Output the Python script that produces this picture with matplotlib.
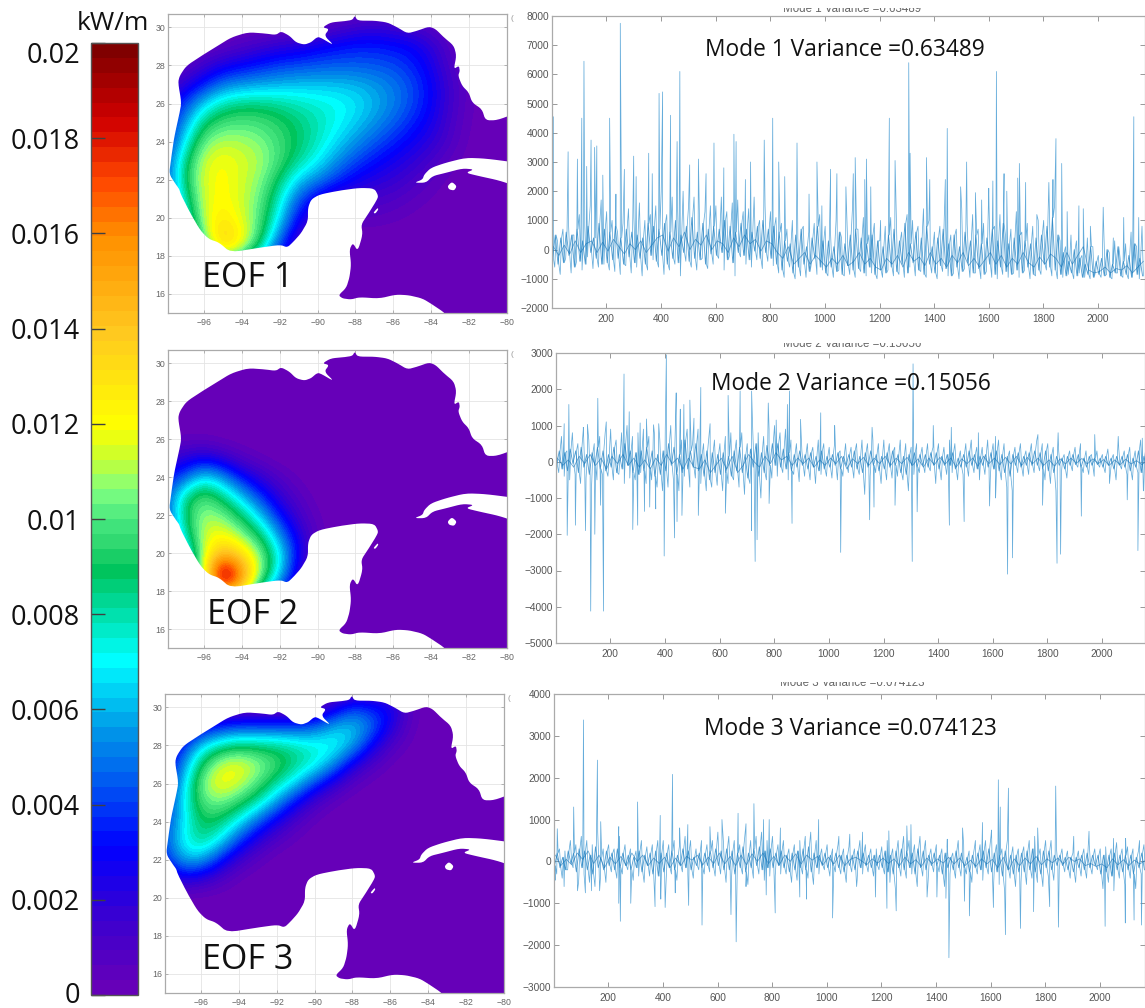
# -*- coding: utf-8 -*-
import numpy as np
from matplotlib import pyplot as plt
from matplotlib.cm import ScalarMappable
from matplotlib.colors import LinearSegmentedColormap, Normalize
from matplotlib.patches import PathPatch
from matplotlib.path import Path
from matplotlib.transforms import Bbox, ScaledTranslation

W, H = 1145, 1008

# Colour bar
cbar_ticks = [0, 0.002, 0.004, 0.006, 0.008, 0.01, 0.012, 0.014, 0.016, 0.018, 0.02]
cbar_labels = ["0", "0.002", "0.004", "0.006", "0.008", "0.01", "0.012", "0.014", "0.016", "0.018", "0.02"]
cmap_stops = [0, 0.0015, 0.003, 0.0045, 0.0055, 0.007, 0.008, 0.0089, 0.0095, 0.010, 0.0106, 0.0113, 0.012, 0.014, 0.016, 0.0172, 0.0185, 0.02]
cmap_colors = ["#6600b8", "#3a00d0", "#0000ff", "#0060f0", "#0098e8", "#00ffff", "#00dfa8", "#00c45c", "#30d870",
               "#48e880", "#80ff80", "#c8ff30", "#ffff00", "#ffc820", "#ff9000", "#ff4800", "#d00000", "#800000"]

# Coast lines, lon/lat
coast_lon = [-83.28, -83.93, -84.46, -85.16, -85.86, -86.74, -87.79, -88.23, -88.67, -88.9, -88.49, -88.32, -88.23, -88.32,
             -88.14, -87.88, -87.62, -87.7, -87.35, -86.91, -86.79, -87.0, -87.79, -88.84, -89.9, -90.34, -90.51, -90.51,
             -90.86, -91.26, -91.6, -91.96, -93.0, -94.6, -95.2, -95.74, -96.18, -96.7, -97.23, -97.3, -97.5, -97.84,
             -97.75, -97.58, -97.3, -97.19, -97.37, -97.28, -96.93, -96.14, -95.26, -94.56, -93.68, -92.8, -92.2, -91.93,
             -91.49, -91.14, -90.7, -90.35, -90.09, -89.91, -89.12, -89.65, -89.39, -89.74, -89.3, -88.6, -88.16, -88.04,
             -87.89, -87.02, -86.32, -85.79, -85.26, -84.74, -84.12, -83.77, -83.33, -82.81, -82.67, -82.81, -82.54, -82.49,
             -82.58, -82.37, -82.02, -81.84, -81.32, -81.14, -80.53, -79.5, -79.5, -82.9]
coast_lat = [15.0, 15.44, 15.76, 15.93, 15.97, 15.76, 15.83, 15.71, 15.76, 15.93, 16.32, 16.85, 17.55, 18.33,
             18.68, 18.25, 19.12, 19.65, 20.17, 20.87, 21.14, 21.54, 21.57, 21.43, 21.22, 20.96, 20.52, 19.82,
             19.21, 18.76, 18.44, 18.58, 18.44, 18.18, 18.7, 18.88, 19.32, 20.2, 21.24, 21.5, 21.77, 22.3,
             23.0, 24.2, 25.45, 26.05, 27.1, 27.46, 27.98, 28.5, 29.04, 29.47, 29.74, 29.68, 29.6, 29.79,
             29.56, 29.21, 29.09, 29.21, 29.44, 29.5, 29.04, 29.56, 29.91, 30.0, 30.26, 30.32, 30.39, 30.61,
             30.35, 30.35, 30.26, 30.0, 29.68, 29.82, 30.04, 29.91, 29.47, 29.04, 28.51, 27.81, 27.98, 27.72,
             27.46, 26.93, 26.58, 26.05, 25.7, 25.12, 25.12, 25.5, 14.0, 14.5]
cuba_lon = [-79.5, -81.13, -82.18, -83.23, -84.02, -84.37, -84.46, -84.9, -84.28, -83.93, -83.23, -82.35, -81.74, -82.18, -81.48, -80.42, -79.5]
cuba_lat = [22.9, 23.11, 23.15, 22.89, 22.62, 22.27, 22.01, 21.84, 21.84, 22.19, 22.36, 22.59, 22.54, 22.36, 22.19, 21.96, 21.65]
isle_lon = [-83.14, -82.91, -82.65, -82.79, -83.06]
isle_lat = [21.66, 21.89, 21.66, 21.43, 21.49]
cozumel_lon = [-87.06, -86.83, -86.79, -86.95]
cozumel_lat = [20.26, 20.52, 20.44, 20.22]

# Fields on a 1 degree grid, lat 31 to 15, lon -98 to -80, in W/m
eof1 = np.array([
    [0, 0, 0, 0, 0, 0, 0, 0, 0, 0, 0, 0, 0, 0, 0, 0, 0, 0, 0],
    [0, 0, 0, 0, 0, 0, 0, .3, .5, 1, 1.5, 1.8, 1.5, 1.2, .8, .2, 0, 0, 0],
    [0, 0, .2, .5, 1, 1.5, 2, 2.2, 2.8, 3.2, 3.5, 3.5, 3.3, 3, 2, .8, 0, 0, 0],
    [.2, .5, 1.5, 2.5, 3, 3.5, 4, 4.2, 4.4, 4.5, 4.5, 4.4, 4.2, 3.6, 2.6, 1, .2, 0, 0],
    [1, 2, 3.5, 5, 5.5, 5.8, 6, 6.2, 6.2, 6.2, 6, 5.6, 5, 4.2, 3, 1.4, .4, 0, 0],
    [2, 4, 6.5, 8, 8.5, 8.5, 8.2, 7.8, 7.5, 7.2, 6.8, 6, 5.2, 4.2, 3, 1.4, .4, 0, 0],
    [3, 5.5, 8.8, 9.8, 10, 9.8, 9.3, 8.6, 7.9, 7.2, 6.4, 5.5, 4.6, 3.6, 2.6, 1.2, .3, 0, 0],
    [3, 7, 10.4, 11.2, 11, 10.6, 9.7, 8.8, 7.8, 6.6, 5.5, 4.5, 3.6, 2.8, 2, 1, .2, 0, 0],
    [4, 8.5, 11.5, 12, 11.5, 11, 9.8, 8.3, 7, 5.5, 4.2, 3.3, 2.6, 2, 1.2, .5, .1, 0, 0],
    [4, 9, 11.6, 12.2, 11.4, 10.7, 8.8, 6.4, 5.3, 3.9, 2.8, 2.2, 1.8, 1.2, .6, .2, 0, 0, 0],
    [3.5, 8, 11.6, 12.2, 11.4, 10.3, 7.6, 4.5, 2.5, 1.5, 1.4, 1.2, 1, .6, .3, 0, 0, 0, 0],
    [3, 7, 11.4, 12.8, 11.5, 10, 6.8, 3, 1.2, .6, .6, .6, .4, .2, 0, 0, 0, 0, 0],
    [2, 5, 10.8, 14, 12.4, 9.5, 5, 1.5, .5, .2, 0, 0, 0, 0, 0, 0, 0, 0, 0],
    [1, 3, 8, 12, 10.5, 7, 3, 1, .2, 0, 0, 0, 0, 0, 0, 0, 0, 0, 0],
    [0, 0, 0, 0, 0, 0, 0, 0, 0, 0, 0, 0, 0, 0, 0, 0, 0, 0, 0],
    [0, 0, 0, 0, 0, 0, 0, 0, 0, 0, 0, 0, 0, 0, 0, 0, 0, 0, 0],
    [0, 0, 0, 0, 0, 0, 0, 0, 0, 0, 0, 0, 0, 0, 0, 0, 0, 0, 0]])
eof2 = np.array([
    [0, 0, 0, 0, 0, 0, 0, 0, 0, 0, 0, 0, 0, 0, 0, 0, 0, 0, 0],
    [0, 0, 0, 0, 0, 0, 0, 0, 0, 0, 0, 0, 0, 0, 0, 0, 0, 0, 0],
    [0, 0, 0, 0, 0, 0, 0, 0, 0, 0, 0, 0, 0, 0, 0, 0, 0, 0, 0],
    [0, 0, 0, 0, 0, 0, 0, 0, 0, 0, 0, 0, 0, 0, 0, 0, 0, 0, 0],
    [0, 0, 0, 0, 0, 0, 0, 0, 0, 0, 0, 0, 0, 0, 0, 0, 0, 0, 0],
    [.2, .3, .3, .1, 0, 0, 0, 0, 0, 0, 0, 0, 0, 0, 0, 0, 0, 0, 0],
    [1.5, 2, 2.6, 1.8, .8, .3, 0, 0, 0, 0, 0, 0, 0, 0, 0, 0, 0, 0, 0],
    [3, 4.5, 7, 5.5, 3.2, 1.8, .8, .2, 0, 0, 0, 0, 0, 0, 0, 0, 0, 0, 0],
    [4, 8.5, 10, 8.5, 6.2, 3.8, 1.8, .7, .1, 0, 0, 0, 0, 0, 0, 0, 0, 0, 0],
    [4, 9, 11, 10.5, 8.8, 6.2, 3.3, 1.3, .3, 0, 0, 0, 0, 0, 0, 0, 0, 0, 0],
    [3, 8, 11.5, 12, 10.6, 8.8, 5.3, 2.3, .5, 0, 0, 0, 0, 0, 0, 0, 0, 0, 0],
    [2, 6, 11.5, 14.5, 13, 10.5, 7.2, 2.8, .4, 0, 0, 0, 0, 0, 0, 0, 0, 0, 0],
    [1, 4, 12, 21, 16, 10.8, 6.8, 2, .2, 0, 0, 0, 0, 0, 0, 0, 0, 0, 0],
    [.5, 3, 10, 17, 14, 8, 4, 1, 0, 0, 0, 0, 0, 0, 0, 0, 0, 0, 0],
    [0, 0, 0, 0, 0, 0, 0, 0, 0, 0, 0, 0, 0, 0, 0, 0, 0, 0, 0],
    [0, 0, 0, 0, 0, 0, 0, 0, 0, 0, 0, 0, 0, 0, 0, 0, 0, 0, 0],
    [0, 0, 0, 0, 0, 0, 0, 0, 0, 0, 0, 0, 0, 0, 0, 0, 0, 0, 0]])
eof3 = np.array([
    [0, 0, 0, 0, 0, 0, 0, 0, 0, 0, 0, .2, .2, 0, 0, 0, 0, 0, 0],
    [0, 0, 0, 0, 0, 0, 0, 0, .5, 2, 4, 3.5, 3, .8, 0, 0, 0, 0, 0],
    [0, .5, 2.5, 3.5, 4, 4, 4, 4, 4.5, 6, 6.5, 5, 2.5, .5, 0, 0, 0, 0, 0],
    [1, 3.5, 6.5, 8, 8.8, 8.6, 8.5, 8, 7.5, 7.5, 6, 3, 1, .2, 0, 0, 0, 0, 0],
    [2, 5, 9, 11.5, 12, 11, 9.8, 8.5, 7.5, 5.5, 2.5, 1, .2, 0, 0, 0, 0, 0, 0],
    [2.5, 6, 10.5, 12.2, 11.5, 10, 8.2, 6.5, 4, 2, .6, .1, 0, 0, 0, 0, 0, 0, 0],
    [3, 6.5, 10, 10.5, 9.5, 8, 5.5, 3, 1.2, .3, 0, 0, 0, 0, 0, 0, 0, 0, 0],
    [3.5, 6.5, 9, 8.8, 7, 4.5, 2.5, 1, .2, 0, 0, 0, 0, 0, 0, 0, 0, 0, 0],
    [4, 7, 8.5, 7, 4, 2, .8, .2, 0, 0, 0, 0, 0, 0, 0, 0, 0, 0, 0],
    [3, 6, 6, 3.5, 1.5, .5, 0, 0, 0, 0, 0, 0, 0, 0, 0, 0, 0, 0, 0],
    [1, 2.5, 2, 1, .2, 0, 0, 0, 0, 0, 0, 0, 0, 0, 0, 0, 0, 0, 0],
    [0, 0, 0, 0, 0, 0, 0, 0, 0, 0, 0, 0, 0, 0, 0, 0, 0, 0, 0],
    [0, 0, 0, 0, 0, 0, 0, 0, 0, 0, 0, 0, 0, 0, 0, 0, 0, 0, 0],
    [0, 0, 0, 0, 0, 0, 0, 0, 0, 0, 0, 0, 0, 0, 0, 0, 0, 0, 0],
    [0, 0, 0, 0, 0, 0, 0, 0, 0, 0, 0, 0, 0, 0, 0, 0, 0, 0, 0],
    [0, 0, 0, 0, 0, 0, 0, 0, 0, 0, 0, 0, 0, 0, 0, 0, 0, 0, 0],
    [0, 0, 0, 0, 0, 0, 0, 0, 0, 0, 0, 0, 0, 0, 0, 0, 0, 0, 0]])
eof_names = ["EOF 1", "EOF 2", "EOF 3"]

# Time series: core and fine every 10 steps, mid every 20 steps, and the spikes read one by one
mode1_core = [900, -600, 300, -850, 700, -300, 1000, -800, 500, -400, 1200, -700, 800, -250, 1500, -650, 400, -600, 1700, -500,
              1300, -700, 1000, -750, 600, -850, 900, -550, 1400, -800, 1100, -600, 1600, -900, 1000, -700, 1200, -350, 1500, -600,
              2000, -850, 1200, -700, 1800, -500, 1300, -900, 2000, -400, 1500, -600, 1800, -700, 1000, -300, 1300, -650, 1500, -500,
              1500, -300, 1800, -700, 1300, -200, 1600, -900, 1700, -250, 1300, -500, 1400, -600, 1800, -350, 1000, -650, 1500, -400,
              1300, -550, 1100, -800, 900, -950, 700, -600, 1000, -1000, 400, -900, 800, -950, 600, -450, 900, -850, 1200, -700,
              800, -900, 500, -950, 1000, -700, 400, -900, 900, -850, 1400, -950, 700, -750, 1100, -900, 500, -800, 900, -1000,
              300, -950, 800, -700, 1100, -900, 1400, -850, 600, -950, 1200, -600, 1000, -900, 800, -750, 1400, -950, 1000, -800,
              600, -1000, 800, -750, 1200, -900, 500, -800, 700, -1000, 1400, -650, 900, -950, 1200, -800, 700, -1000, 900, -750,
              1500, -950, 800, -1000, 1200, -850, 500, -950, 700, -800, 1300, -950, 600, -700, 900, -1000, 800, -900, 1000, -850,
              1000, -700, 1800, -900, 1500, -1000, 300, -950, 100, -850, 500, -1000, 300, -800, -200, -950, 400, -1000, 100, -750,
              -200, -950, 700, -850, -100, -1000, 300, -800, -300, -950, 200, -1000, 600, -750, 100, -1000, 800]
mode1_fine = [-300, 500, -500, 400, -450, 600, -200, 500, -600, 700, -400, 300, -500, 800, -100, 400, -300, 900, -500, 700,
              -450, 600, -350, 800, -300, 400, -500, 700, -250, 600, -450, 500, -300, 400, -500, 900, -200, 800, -400, 700,
              -200, 900, -500, 600, -300, 1000, -450, 500, -100, 800, -400, 1100, -300, 600, -350, 900, -500, 700, -150, 800,
              -200, 700, -100, 1000, -350, 800, -450, 600, -100, 900, -200, 700, -350, 600, -50, 800, -300, 1000, -100, 700,
              -300, 800, -500, 600, -700, 300, -400, 200, -800, 500, -600, 700, -500, 100, -750, 400, -300, 800, -600, 300,
              -800, 300, -600, 100, -750, 600, -850, 200, -550, 500, -700, 700, -650, 400, -800, 200, -600, 500, -850, 300,
              -700, 100, -800, 500, -600, 700, -750, 300, -500, 900, -800, 200, -450, 600, -700, 400, -850, 800, -500, 100,
              -800, 400, -550, 700, -650, 200, -900, 500, -600, 100, -750, 600, -450, 300, -800, 500, -650, 200, -850, 400,
              -500, 700, -850, 300, -600, 900, -750, 200, -850, 400, -700, 500, -800, 300, -600, 200, -850, 400, -700, 500,
              -500, 800, -600, 1100, -700, 500, -850, -100, -900, -400, -800, 0, -900, -300, -950, -500, -850, 100, -950, -400,
              -850, -300, -900, 0, -950, -500, -800, 100, -900, -400, -850, -200, -950, 200, -850, -300, -900]
mode1_mid = [100, -200, 150, -150, 300, -100, 200, 300, -100, 250, -50, 350, 100, -150, 200, 0, 300, -100, 150, 400,
             500, -50, 400, 100, 600, 0, 350, 150, 500, 0, 300, 200, -100, 400, 100, 500, 200, 350, -50, 300,
             200, -100, -300, 100, -500, -300, -100, -500, -200, -400, -600, -300, -500, -200, -550, -400, -100, -500, -300, -600,
             -700, -300, -500, -200, -600, -100, -400, -250, -550, -100, -500, -300, -600, -200, -450, -100, -550, -300, -600, -350,
             -100, -500, -200, -600, -300, -500, -100, -450, -600, -250, -500, -150, -300, -600, -100, -500, -200, 100, -700, -800,
             -750, -600, -800, -650, -700, -550, -800, -600, -400]
mode1_spike_x = [6, 60, 94, 110, 118, 128, 144, 157, 165, 187, 212, 235, 251, 266, 300, 309, 355, 368, 393, 406, 435, 459, 469,
                 505, 537, 565, 594, 630, 667, 675, 709, 728, 778, 809, 831, 853, 898, 942, 971, 989, 1021, 1044, 1077, 1104,
                 1111, 1146, 1152, 1168, 1204, 1236, 1257, 1307, 1312, 1372, 1384, 1441, 1448, 1497, 1519, 1551, 1574, 1600,
                 1615, 1628, 1656, 1666, 1706, 1712, 1735, 1776, 1820, 1835, 1846, 1867, 1887, 1930, 1946, 1972, 2019, 2056,
                 2094, 2131, 2149]
mode1_spike_y = [4550, 3350, 3100, 4500, 6450, 2850, 3750, 3500, 3550, 2550, 4500, 1900, 7750, 2750, 3200, 2500, 3300, 2600, 5350,
                 5400, 4600, 3700, 6100, 2900, 3100, 2600, 3650, 2800, 3950, 3700, 2400, 3000, 3750, 4500, 3000, 2500, 3650, 1900,
                 3000, 1500, 2750, 2600, 2150, 2600, 3150, 2400, 3100, 2150, 1000, 4500, 3050, 6400, 3300, 3150, 2400, 2400, 4150,
                 2150, 3000, 1950, 1700, 2100, 2350, 6100, 2600, 2000, 2450, 2950, 2300, 1200, 2300, 2400, 3800, 2950, 1300, 1500,
                 1400, 800, 1450, 400, 1100, 4550, 1100]

mode2_core = [500, -300, 700, -400, 300, -500, 800, -350, 500, -600, 900, -450, 600, -700, 500, -500, 700, -350, 800, -400,
              900, -500, 600, -350, 800, -600, 1000, -450, 700, -500, 800, -300, 900, -600, 700, -500, 800, -700, 600, -800,
              900, -700, 1000, -500, 1100, -800, 600, -400, 900, -700, 500, -450, 900, -600, 500, -800, 700, -700, 600, -650,
              500, -800, 700, -600, 800, -500, 600, -700, 800, -900, 500, -600, 900, -500, 800, -1000, 700, -500, 900, -450,
              1000, -400, 800, -300, 900, -500, 600, -350, 500, -550, 300, -400, 500, -500, 400, -600, 600, -350, 500, -400,
              400, -450, 500, -500, 300, -400, 500, -300, 400, -450, 500, -350, 600, -900, 500, -400, 600, -300, 500, -600,
              600, -500, 500, -450, 400, -400, 600, -500, 500, -800, 400, -350, 500, -300, 400, -300, 500, -250, 400, -600,
              500, -500, 400, -350, 600, -300, 500, -500, 300, -350, 500, -400, 600, -300, 400, -500, 400, -350, 600, -400,
              500, -800, 600, -500, 500, -700, 300, -800, 400, -300, 500, -400, 300, -350, 500, -300, 600, -250, 500, -500,
              500, -600, 400, -800, 300, -300, 200, -450, 300, -250, 400, -150, 500, -300, 300, -350, 200, -400, 300, -150,
              200, -300, 350, -250, 200, -500, 350, -200, 300, -350, 400, -500, 300, -300, 600, -800, 400]
mode2_fine = [-100, 300, -200, 250, -250, 350, -50, 300, -300, 400, -150, 200, -350, 250, -100, 400, -200, 300, -250, 200,
              -150, 400, -300, 200, -200, 500, -100, 300, -300, 250, -350, 300, -250, 400, -150, 300, -400, 200, -350, 300,
              -250, 500, -100, 400, -350, 200, -300, 600, -200, 300, -150, 500, -250, 200, -400, 300, -500, 250, -300, 200,
              -350, 250, -300, 150, -400, 300, -250, 400, -300, 200, -450, 350, -150, 500, -400, 250, -300, 450, -100, 500,
              -100, 500, -150, 350, -200, 250, -250, 200, -150, 300, -100, 200, -200, 250, -150, 150, -250, 300, -200, 150,
              -150, 200, -100, 250, -200, 150, -100, 200, -150, 300, -200, 150, -300, 250, -150, 300, -100, 200, -250, 150,
              -200, 250, -150, 300, -100, 200, -300, 150, -350, 200, -100, 250, -150, 200, -100, 200, -150, 250, -100, 250,
              -200, 150, -100, 200, -100, 250, -200, 100, -150, 200, -150, 300, -100, 200, -200, 150, -100, 200, -150, 250,
              -200, 300, -250, 200, -300, 150, -400, 200, -100, 250, -150, 150, -100, 250, -100, 300, -100, 250, -200, 300,
              -250, 200, -300, 150, -100, 100, -200, 150, -100, 200, -80, 200, -150, 100, -150, 150, -100, 100, -80, 100,
              -150, 150, -100, 100, -200, 150, -100, 150, -150, 200, -250, 100, -150, 300, -300, 150, -200]
mode2_mid = [100, -100, 50, -150, 150, -50, 200, -100, 100, -200, 150, -50, 200, -100, 100, -150, 50, -200, 100, -100,
             200, -50, 100, -200, 100, -150, -200, 50, -300, -100, 100, -200, 150, -300, -100, 200, 0, -150, 150, -50,
             250, 50, 150, -100, 100, -50, 100, -150, 50, -100, 100, -50, 150, -200, 80, -50, 120, -100, 100, -50,
             150, -100, 100, -50, 120, -100, 80, -150, 100, -80, 120, -60, 100, -150, 80, -50, 100, -120, 150, -50,
             100, -80, 120, -60, 150, -100, 120, -50, 100, -100, 50, -120, 80, -60, 100, -40, 90, -60, 80, -50,
             60, -100, 50, -80, 70, -60, 30, -80, 40]
mode2_spike_x = [31, 48, 101, 116, 154, 185, 250, 269, 309, 332, 358, 377, 405, 441, 456, 469, 491, 506, 531, 565, 631, 675, 717,
                 778, 807, 848, 856, 896, 970, 1021, 1158, 1308, 1382, 1448, 1547, 1610, 1765, 1839, 1973, 2059, 2147]
mode2_spike_y = [1050, 1580, 950, 1030, 1750, 1100, 2420, 1380, 1070, 1180, 1020, 1050, 2950, 1900, 1450, 1580, 1700, 1200, 2050,
                 1050, 1830, 1950, 1950, 1620, 1150, 1580, 1950, 1170, 1350, 1000, 950, 2700, 1000, 950, 800, 700, 750, 800, 750,
                 700, 650]
mode2_dip_x = [42, 72, 109, 128, 143, 164, 175, 282, 300, 325, 344, 366, 397, 435, 444, 462, 522, 621, 717, 730, 737, 781, 865,
               1043, 1149, 1165, 1242, 1305, 1323, 1441, 1495, 1588, 1610, 1654, 1672, 1782, 1835, 1848, 1924, 2027, 2092, 2131, 2152]
mode2_dip_y = [-2030, -1750, -1900, -4120, -2000, -1200, -4120, -1870, -1750, -1370, -1250, -1300, -2600, -2100, -1650, -1480, -1480,
               -1420, -1900, -2750, -2150, -1150, -1700, -2500, -1600, -1250, -1200, -2750, -1380, -1750, -1650, -1220, -1000, -3100,
               -2650, -1200, -2800, -2550, -1500, -600, -1050, -2450, -800]

mode3_core = [400, -300, 300, -400, 250, -200, 500, -150, 400, -500, 600, -300, 500, -500, 400, -600, 700, -400, 300, -500,
              400, -250, 300, -400, 600, -300, 400, -200, 300, -450, 250, -350, 500, -500, 350, -350, 400, -600, 500, -700,
              500, -550, 400, -300, 500, -450, 400, -250, 600, -300, 500, -400, 300, -200, 500, -300, 400, -250, 500, -350,
              700, -300, 500, -500, 600, -400, 500, -600, 400, -300, 700, -550, 500, -400, 600, -300, 700, -450, 500, -350,
              600, -350, 400, -300, 500, -300, 300, -500, 400, -450, 500, -300, 600, -400, 700, -550, 500, -300, 300, -200,
              400, -350, 300, -250, 400, -300, 300, -500, 350, -250, 300, -450, 500, -300, 400, -250, 300, -350, 300, -200,
              350, -300, 500, -500, 300, -650, 500, -350, 600, -400, 500, -300, 400, -600, 600, -350, 500, -450, 300, -250,
              400, -250, 300, -600, 350, -300, 200, -400, 500, -350, 400, -300, 250, -500, 350, -300, 400, -450, 500, -300,
              600, -500, 400, -550, 300, -700, 500, -400, 350, -600, 300, -500, 350, -550, 500, -400, 600, -500, 300, -600,
              500, -350, 500, -450, 300, -200, 300, -250, 250, -400, 200, -500, 250, -350, 300, -400, 400, -300, 300, -200,
              300, -650, 350, -500, 300, -700, 450, -400, 300, -550, 350, -400, 300, -650, 250, -300, 400]
mode3_fine = [-100, 200, -150, 100, -200, 250, -50, 200, -250, 300, -150, 250, -200, 150, -300, 350, -150, 100, -200, 250,
              -100, 200, -200, 300, -150, 200, -100, 150, -200, 100, -150, 250, -250, 150, -100, 200, -300, 250, -350, 200,
              -250, 200, -150, 250, -200, 150, -100, 300, -150, 250, -200, 100, -100, 200, -150, 200, -100, 250, -150, 300,
              -100, 250, -200, 300, -200, 250, -300, 200, -150, 350, -250, 200, -150, 300, -100, 350, -200, 250, -150, 300,
              -150, 200, -100, 250, -150, 150, -250, 200, -200, 250, -150, 300, -200, 350, -250, 200, -150, 150, -100, 200,
              -150, 150, -100, 200, -150, 150, -250, 150, -100, 150, -200, 250, -150, 200, -100, 150, -150, 150, -100, 150,
              -150, 250, -250, 150, -300, 250, -150, 300, -200, 250, -150, 200, -300, 300, -150, 250, -200, 150, -100, 200,
              -100, 150, -300, 200, -150, 100, -200, 250, -150, 200, -150, 100, -250, 150, -150, 200, -200, 250, -150, 300,
              -250, 200, -250, 150, -350, 250, -200, 150, -300, 150, -250, 200, -250, 250, -200, 300, -250, 150, -300, 250,
              -150, 250, -200, 150, -100, 150, -100, 100, -200, 100, -250, 100, -150, 150, -200, 200, -150, 150, -100, 150,
              -300, 150, -250, 150, -350, 200, -200, 150, -250, 150, -200, 150, -300, 100, -150, 200, -200]
mode3_mid = [150, -100, 50, -80, 200, 50, 250, -50, 150, -150, 100, -60, 120, -100, 200, 0, 150, -100, 80, -50,
             100, -150, 80, -100, 120, 30, 150, -80, 100, -50, 200, -60, 120, -100, 150, -80, 180, 0, 200, -50,
             120, -80, 150, 0, 180, -60, 150, 30, 120, -80, 100, -60, 150, -100, 50, 100, 20, -80, 60, -40,
             80, -50, 60, -100, 100, -60, 40, -120, 80, -50, 60, -40, 100, -60, 80, -100, 30, -120, 60, -60,
             50, -150, 100, -200, 60, -100, 80, -60, 120, -80, 60, -30, 80, -60, 100, 0, 60, -100, -50, -120,
             -60, -150, 60, -80, 40, -100, 30, -60, 20]
mode3_spike_x = [13, 73, 109, 160, 172, 238, 307, 390, 435, 461, 491, 572, 616, 675, 704, 733, 768, 789, 830, 970, 1044, 1084, 1131,
                 1227, 1293, 1308, 1441, 1497, 1544, 1570, 1603, 1628, 1635, 1665, 1772, 1838, 1904, 1960, 2050, 2094, 2145]
mode3_spike_y = [780, 1300, 3380, 2420, 950, 830, 1420, 1100, 2080, 800, 880, 830, 1000, 1150, 900, 1380, 1000, 1000, 800, 1000, 600,
                 650, 700, 730, 850, 880, 530, 800, 500, 930, 750, 1950, 1300, 1750, 800, 1800, 600, 720, 550, 550, 500]
mode3_dip_x = [5, 38, 87, 116, 138, 168, 238, 244, 282, 371, 392, 408, 445, 494, 543, 649, 668, 704, 778, 811, 901, 926, 1021, 1109,
               1178, 1220, 1254, 1367, 1403, 1436, 1447, 1504, 1522, 1610, 1654, 1709, 1757, 1816, 1848, 2019, 2093, 2125, 2152]
mode3_dip_y = [-450, -600, -700, -750, -700, -700, -1000, -1430, -1000, -1080, -900, -1100, -750, -1050, -1520, -1270, -1920, -600,
               -800, -1230, -850, -900, -1350, -600, -850, -1120, -1180, -850, -850, -880, -2300, -950, -1300, -1100, -1750, -1600,
               -1200, -1080, -1570, -1550, -1470, -1400, -1520]

mode_titles = ["Mode 1 Variance =0.63489", "Mode 2 Variance =0.15056", "Mode 3 Variance =0.074123"]
xtick_series = [200, 400, 600, 800, 1000, 1200, 1400, 1600, 1800, 2000]

plt.rcParams["font.family"] = ["Liberation Sans", "DejaVu Sans"]
fig = plt.figure(figsize=(W / 100, H / 100), dpi=100, facecolor="white")
big_font = ["Open Sans", "DejaVu Sans"]


def caixa(x0, y0, x1, y1):
    # pixel box, measured from the top left, to a figure rectangle
    return [x0 / W, 1 - y1 / H, (x1 - x0) / W, (y1 - y0) / H]


def texto(x, y, s, size, **kw):
    return fig.text(x / W, 1 - y / H, s, fontsize=size, ha="center", va="center", **kw)


def suaviza(lon, lat, passos=2):
    # corner cutting of a closed outline, the reference coast is rounded
    p = np.column_stack([lon, lat])
    for _ in range(passos):
        q = np.roll(p, -1, axis=0)
        p = np.column_stack([0.8 * p + 0.2 * q, 0.2 * p + 0.8 * q]).reshape(-1, 2)
    return p


cmap = LinearSegmentedColormap.from_list(
    "eof", [(s / 0.02, c) for s, c in zip(cmap_stops, cmap_colors)], N=64)
norm = Normalize(0, 0.02)

# Colour bar
cax = fig.add_axes(caixa(91, 43, 138, 995))
cb = fig.colorbar(ScalarMappable(norm=norm, cmap=cmap), cax=cax, ticklocation="left")
cb.set_ticks(cbar_ticks, labels=cbar_labels)
cb.outline.set_edgecolor("#555555")
cb.outline.set_linewidth(1.0)
cax.tick_params(axis="y", direction="in", length=10, width=1, color="#404040", labelsize=19.5, pad=8, labelcolor="#111111")
for lab in cax.get_yticklabels():
    lab.set_family(big_font)
top_label = cax.get_yticklabels()[-1]
top_label.set_transform(top_label.get_transform() + ScaledTranslation(0, -7 / 72, fig.dpi_scale_trans))
zero_label = cax.get_yticklabels()[0]
zero_label.set_transform(zero_label.get_transform() + ScaledTranslation(0, 2 / 72, fig.dpi_scale_trans))
texto(113, 23, "kW/m", 19, family=big_font, color="#111111")

# Maps
map_boxes = [(168, 14, 507, 313), (168, 350, 507, 648), (165, 694, 504, 993)]
name_pos = [(248, 278), (253, 615), (248, 960)]
sea = Path(suaviza(coast_lon, coast_lat), closed=False)
for box, field, name, pos in zip(map_boxes, [eof1, eof2, eof3], eof_names, name_pos):
    ax = fig.add_axes(caixa(*box))
    ax.set_axisbelow(True)
    ax.grid(color="#e4e4e4", lw=0.6)
    im = ax.imshow(field / 1000, extent=(-98.5, -79.5, 14.5, 31.5), origin="upper", cmap=cmap, norm=norm,
                   interpolation="bicubic", interpolation_stage="data", aspect="auto", zorder=1)
    im.set_clip_path(PathPatch(sea, transform=ax.transData))
    for lo, la in [(cuba_lon, cuba_lat), (isle_lon, isle_lat), (cozumel_lon, cozumel_lat)]:
        contorno = suaviza(lo, la)
        ax.fill(contorno[:, 0], contorno[:, 1], color="white", lw=0, zorder=2)
    ax.set_xlim(-97.9, -80)
    ax.set_ylim(15, 30.7)
    ax.set_xticks(np.arange(-96, -79, 2))
    ax.set_yticks(np.arange(16, 31, 2))
    ax.tick_params(direction="in", length=2.5, width=0.5, color="#999999", labelsize=6.3, labelcolor="#666666",
                   top=True, right=True)
    ax.tick_params(axis="x", pad=3.6)
    ax.tick_params(axis="y", pad=2)
    for sp in ax.spines.values():
        sp.set_color("#aaaaaa")
        sp.set_linewidth(0.9)
    texto(pos[0], pos[1], name, 24.5, family=big_font, color="#111111", zorder=5)
    texto(box[2] + 5, box[1] + 4, "(", 6, color="#999999")

# Time series
serie_boxes = [(552, 16, 1145, 308), (556, 353, 1145, 643), (554, 694, 1145, 987)]
serie_xlim = [(1, 2172), (1, 2157), (1, 2165)]
serie_ylim = [(-2000, 8000), (-5000, 3000), (-3000, 4000)]
title_pos = [(845, 50), (851, 384), (850, 729)]
hidden_y = [9, 344, 683]
cores = [mode1_core, mode2_core, mode3_core]
fines = [mode1_fine, mode2_fine, mode3_fine]
mids = [mode1_mid, mode2_mid, mode3_mid]
extra_x = [mode1_spike_x, mode2_spike_x + mode2_dip_x, mode3_spike_x + mode3_dip_x]
extra_y = [mode1_spike_y, mode2_spike_y + mode2_dip_y, mode3_spike_y + mode3_dip_y]
for i in range(3):
    ax = fig.add_axes(caixa(*serie_boxes[i]))
    tx = np.concatenate([1 + 10 * np.arange(len(cores[i])), 6 + 10 * np.arange(len(fines[i])), extra_x[i]])
    ty = np.concatenate([cores[i], fines[i], extra_y[i]])
    ordem = np.argsort(tx)
    ax.plot(tx[ordem], ty[ordem], color="#3f98d2", lw=0.55, alpha=0.8)
    ax.plot(3 + 10 * np.arange(len(fines[i])), fines[i], color="#1a7cc0", lw=0.6, alpha=0.75)
    ax.plot(6 + 20 * np.arange(len(mids[i])), mids[i], color="#0f6eb2", lw=0.6, alpha=0.6)
    ax.set_xlim(*serie_xlim[i])
    ax.set_ylim(*serie_ylim[i])
    ax.set_xticks(xtick_series)
    ax.set_yticks(np.arange(serie_ylim[i][0], serie_ylim[i][1] + 1, 1000))
    ax.tick_params(direction="in", length=3.5, width=0.6, color="#888888", labelsize=7.3, labelcolor="#555555",
                   top=True, right=True)
    ax.tick_params(axis="x", pad=4.5)
    ax.tick_params(axis="y", pad=2)
    for sp in ax.spines.values():
        sp.set_color("#aaaaaa")
        sp.set_linewidth(0.9)
    texto(title_pos[i][0], title_pos[i][1], mode_titles[i], 16.4, family=big_font, color="#111111", zorder=5)
    # remains of the original small title, cut off above the panel
    t = texto(852, hidden_y[i], mode_titles[i], 8.3, color="#666666")
    t.set_clip_box(Bbox([[780, H - hidden_y[i] - 3], [925, H - hidden_y[i] + 1]]))
    t.set_clip_on(True)

fig.savefig("out.png", dpi=100)
